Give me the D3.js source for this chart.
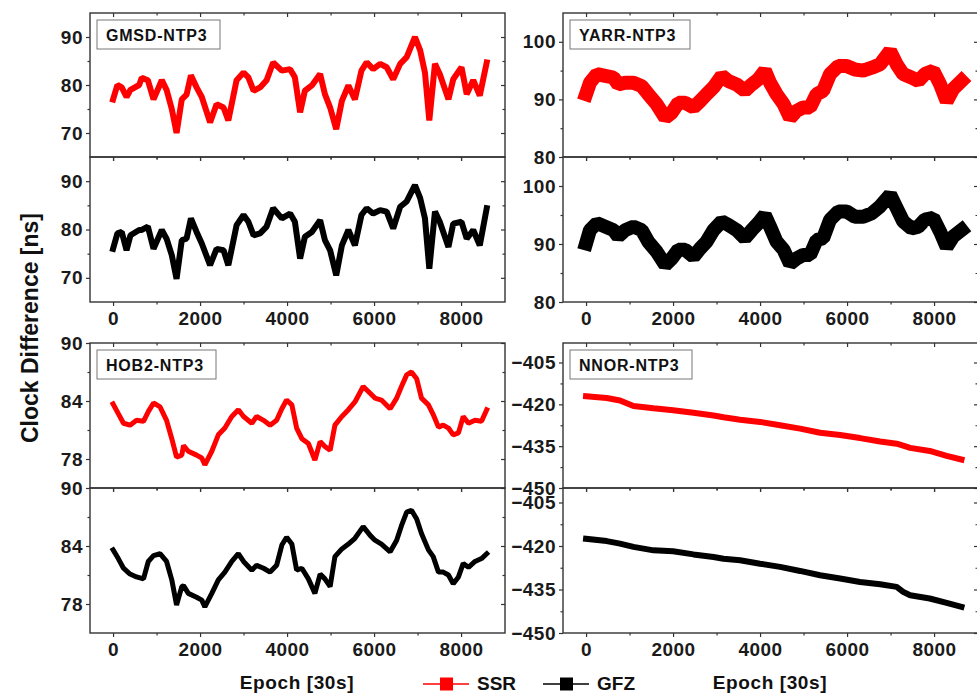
<!DOCTYPE html>
<html>
<head>
<meta charset="utf-8">
<script src="https://cdn.jsdelivr.net/npm/d3@7"></script>
<style>
  body { margin: 0; background: #fff; }
  svg { display: block; }
</style>
</head>
<body>
<svg id="chart" width="977" height="695"></svg>
<script>
// ---- data (epoch in 30 s steps, clock difference in ns) ----
const gmsdEpoch = [0,100,200,310,400,600,660,800,930,1120,1230,1350,1460,1580,1690,1790,1920,2040,2230,2380,2540,2650,2840,3000,3110,3230,3380,3530,3680,3880,4070,4180,4300,4410,4570,4760,4870,4990,5130,5260,5410,5560,5710,5830,5980,6140,6290,6440,6600,6750,6940,7060,7170,7270,7400,7510,7710,7820,8010,8130,8280,8430,8590];
const gmsdSSR = [77,80,79.5,77.5,79,80,81.5,81,77,81,79,75,70,77,78,82,79.5,77.5,72.2,76,75.3,72.6,81,82.6,81.6,78.8,79.5,81,84.7,83,83.3,81.6,74.3,78.8,79.9,82.3,78.1,75.3,70.8,76.7,79.9,77,83,84.7,83.3,84.4,83.7,81.2,84.4,85.8,90,87.2,82.6,72.6,84.4,82.3,77,81.2,83.7,78.1,81,77.8,84.7];
const gmsdGFZ = [76,79.2,79.5,75.7,78.8,79.9,79.9,80.6,76,79.9,78.1,74.7,69.8,77.8,78.1,82.3,79.5,77.1,72.6,76,75.7,72.6,80.9,83,81.6,78.8,79.2,80.6,84.4,82.3,83.3,81.6,74,78.5,79.5,81.9,77.8,75.7,70.5,76.7,79.9,76.7,83,84.4,83.3,84,83.7,80.2,84.7,85.8,89.2,86.5,82.3,71.9,83.7,81.6,76.4,81.2,81.6,78.1,79.9,76.7,84.4];

const yarrEpoch = [0,90,250,440,630,740,900,1090,1280,1430,1620,1820,1970,2120,2280,2470,2620,2770,2930,3120,3270,3460,3650,3810,3960,4110,4230,4380,4540,4690,4840,4990,5150,5300,5450,5610,5800,5990,6180,6370,6570,6760,6990,7140,7290,7480,7640,7790,7980,8140,8290,8440,8630];
const yarrSSR = [90.9,92.9,94.4,94.1,93.8,92.6,92.9,92.9,92.3,90.9,89.2,86.8,87.7,89.4,89.4,88.6,89.7,90.9,92.1,94.1,93.2,92.6,91.5,92.6,93.5,95,92.9,90.9,89.2,86.8,88,88.6,88.6,90.9,91.5,94.4,95.8,95.8,95.2,95,95.5,96.1,98.4,96.1,94.4,93.8,93.2,94.4,95,92.6,89.7,91.8,93.2];
const yarrGFZ = [90.1,92.4,93.6,93,92.4,91.3,92.4,93,92.4,90.4,88.7,86.4,87.5,89,89,87.8,89.2,90.4,92.4,93.9,93.3,92.4,91,92.4,93.6,95,93,90.4,89,86.6,87.5,88.1,88.1,90.7,91,94.2,95.6,95.6,94.7,94.7,95.3,96.5,98.5,96.2,93.9,92.7,93,94.2,94.5,92.1,89.5,91.3,92.4];

const hob2Epoch = [0,120,240,390,540,700,810,930,1080,1230,1350,1460,1580,1620,1730,1920,2040,2110,2270,2420,2570,2730,2880,3000,3190,3300,3460,3610,3760,3880,3990,4110,4220,4340,4490,4640,4760,4870,4990,5100,5260,5410,5560,5750,5910,6020,6170,6370,6520,6630,6750,6860,6980,7090,7250,7360,7480,7590,7710,7820,7940,8050,8170,8320,8470,8590];
const hob2SSR = [83.7,82.7,81.7,81.5,82,81.9,82.9,83.8,83.4,82,80.1,78.2,78.4,79.4,78.8,78.4,78.1,77.4,78.8,80.5,81.2,82.4,83.1,82.4,81.7,82.4,82,81.5,82,83.2,84.1,83.6,81.2,80.1,79.6,77.9,79.8,79.3,78.9,81.5,82.4,83.1,83.9,85.5,84.8,84.3,84.1,83.2,84.3,85.5,86.7,87,86.3,84.3,83.6,82.6,81.3,81.5,81.2,80.5,80.7,82.4,81.7,82,81.9,83.1];
const hob2GFZ = [83.6,82.7,81.7,81.1,80.8,80.6,82.4,83,83.2,82.4,80.5,77.9,79.8,79.9,79.1,78.7,78.4,77.7,79.1,80.5,81.3,82.4,83.2,82.4,81.5,82,81.7,81.3,82,84.1,84.9,84.2,81.5,81.7,80.6,79.1,81.1,80.6,79.8,82.9,83.7,84.2,84.8,86,85.1,84.6,84.2,83.4,84.6,86.1,87.5,87.7,86.8,85.3,83.6,82.9,81.3,81.3,81,80.1,80.8,82.2,81.8,82.4,82.7,83.2];

const nnorEpoch = [0,475,780,1090,1550,2000,2470,2930,3160,3540,4000,4460,4920,5380,5840,6300,6760,7140,7290,7450,7900,8290,8630];
const nnorSSR = [-417.1,-417.7,-418.6,-420.6,-421.4,-422.1,-423,-424,-424.6,-425.5,-426.3,-427.5,-428.7,-430.2,-431,-432.1,-433.3,-434.1,-434.8,-435.6,-436.7,-438.5,-439.8];
const nnorGFZ = [-417.5,-418.3,-419.2,-420.3,-421.5,-421.8,-422.9,-423.8,-424.4,-424.9,-426.1,-427.2,-428.6,-430.1,-431.2,-432.4,-433.2,-434.1,-435.8,-437,-438.1,-439.6,-441];

const xTicks = [0, 2000, 4000, 6000, 8000];
const xMinor = [1000, 3000, 5000, 7000];
const seriesNames = ["SSR", "GFZ"];
const seriesColors = ["#ff0000", "#000000"];

// ---- layout ----
const font = "'Liberation Sans', Arial, sans-serif";
const cols = [{ x0: 90, x1: 505 }, { x0: 563, x1: 978 }];
const rows = [{ top: 13, mid: 157, bot: 302 }, { top: 343, mid: 488, bot: 633 }];
const xDomain = [-530, 9010];

const panels = [
  { name: "GMSD-NTP3", col: 0, row: 0, epoch: gmsdEpoch, ssr: gmsdSSR, gfz: gmsdGFZ, lw: 6,
    dom: [[65, 95], [65, 95]], ticks: [[70, 80, 90], [70, 80, 90]], minor: [[75, 85], [75, 85]], box: 123 },
  { name: "YARR-NTP3", col: 1, row: 0, epoch: yarrEpoch, ssr: yarrSSR, gfz: yarrGFZ, lw: 14,
    dom: [[80, 105], [80, 105]], ticks: [[80, 90, 100], [80, 90, 100]], minor: [[85, 95], [85, 95]], box: 120 },
  { name: "HOB2-NTP3", col: 0, row: 1, epoch: hob2Epoch, ssr: hob2SSR, gfz: hob2GFZ, lw: 5,
    dom: [[75, 90], [75, 90]], ticks: [[78, 84, 90], [78, 84, 90]], minor: [[81, 87], [81, 87]], box: 119 },
  { name: "NNOR-NTP3", col: 1, row: 1, epoch: nnorEpoch, ssr: nnorSSR, gfz: nnorGFZ, lw: 6,
    dom: [[-450, -398], [-450, -400]], ticks: [[-450, -435, -420, -405], [-450, -435, -420, -405]],
    minor: [[-442.5, -427.5, -412.5], [-442.5, -427.5, -412.5]], box: 122 }
];

const svg = d3.select("#chart");

function styleAxis(g) {
  g.attr("font-family", font).attr("font-size", 19).attr("font-weight", "bold");
  g.selectAll(".tick line").attr("stroke", "#333").attr("stroke-width", 1.2);
  g.selectAll(".tick text").attr("fill", "#1a1a1a").style("letter-spacing", "0.5px");
  g.select(".domain").remove();
}

function subplot(p, k) {
  const c = cols[p.col], r = rows[p.row];
  const top = k === 0 ? r.top : r.mid;
  const bot = k === 0 ? r.mid : r.bot;
  const x = d3.scaleLinear().domain(xDomain).range([c.x0, c.x1]);
  const y = d3.scaleLinear().domain(p.dom[k]).range([bot, top]);
  const vals = k === 0 ? p.ssr : p.gfz;
  const g = svg.append("g");

  // clip the series to the subplot
  const clipId = "clip-" + p.col + p.row + k;
  svg.append("clipPath").attr("id", clipId)
    .append("rect").attr("x", c.x0).attr("y", top).attr("width", c.x1 - c.x0).attr("height", bot - top);

  const line = d3.line().x((d, i) => x(p.epoch[i])).y(d => y(d));
  g.append("path")
    .datum(vals)
    .attr("clip-path", "url(#" + clipId + ")")
    .attr("fill", "none")
    .attr("stroke", seriesColors[k])
    .attr("stroke-width", p.lw)
    .attr("stroke-linejoin", "bevel")
    .attr("stroke-linecap", "square")
    .attr("d", line);

  // left axis (outward ticks with labels)
  g.append("g").attr("transform", `translate(${c.x0},0)`)
    .call(d3.axisLeft(y).tickValues(p.ticks[k]).tickSize(4).tickPadding(3).tickFormat(d3.format("d")))
    .call(styleAxis);
  g.append("g").attr("transform", `translate(${c.x0},0)`)
    .call(d3.axisLeft(y).tickValues(p.minor[k]).tickSize(2.5).tickFormat(""))
    .call(styleAxis);
  // right axis (inward ticks)
  g.append("g").attr("transform", `translate(${c.x1},0)`)
    .call(d3.axisLeft(y).tickValues(p.ticks[k]).tickSize(4).tickFormat(""))
    .call(styleAxis);
  g.append("g").attr("transform", `translate(${c.x1},0)`)
    .call(d3.axisLeft(y).tickValues(p.minor[k]).tickSize(2.5).tickFormat(""))
    .call(styleAxis);
  // top (inward) and bottom (outward) ticks
  g.append("g").attr("transform", `translate(0,${top})`)
    .call(d3.axisBottom(x).tickValues(xTicks).tickSize(4).tickFormat(""))
    .call(styleAxis);
  g.append("g").attr("transform", `translate(0,${top})`)
    .call(d3.axisBottom(x).tickValues(xMinor).tickSize(2.5).tickFormat(""))
    .call(styleAxis);
  g.append("g").attr("transform", `translate(0,${bot})`)
    .call(d3.axisBottom(x).tickValues(xTicks).tickSize(4).tickPadding(6)
      .tickFormat(k === 1 ? d3.format("d") : ""))
    .call(styleAxis);
  g.append("g").attr("transform", `translate(0,${bot})`)
    .call(d3.axisBottom(x).tickValues(xMinor).tickSize(2.5).tickFormat(""))
    .call(styleAxis);

  // frame
  g.append("rect")
    .attr("x", c.x0).attr("y", top)
    .attr("width", c.x1 - c.x0).attr("height", bot - top)
    .attr("fill", "none").attr("stroke", "#333").attr("stroke-width", 1.4);
}

panels.forEach(p => {
  subplot(p, 0);
  subplot(p, 1);
  const c = cols[p.col], r = rows[p.row];
  const bx = c.x0 + 7, by = r.top + 7;
  svg.append("rect")
    .attr("x", bx).attr("y", by).attr("width", p.box).attr("height", 29)
    .attr("fill", "#fff").attr("stroke", "#777").attr("stroke-width", 1);
  svg.append("text")
    .attr("x", bx + 9).attr("y", by + 21)
    .attr("font-family", font).attr("font-size", 16).attr("font-weight", "bold")
    .style("letter-spacing", "0.8px")
    .attr("fill", "#111")
    .text(p.name);
});

// axis titles
svg.append("text")
  .attr("transform", "translate(38,328) rotate(-90)")
  .attr("text-anchor", "middle")
  .attr("font-family", font).attr("font-size", 23).attr("font-weight", "bold")
  .attr("fill", "#111")
  .text("Clock Difference [ns]");

[297, 770].forEach(cx => {
  svg.append("text")
    .attr("x", cx).attr("y", 689)
    .attr("text-anchor", "middle")
    .attr("font-family", font).attr("font-size", 19).attr("font-weight", "bold")
    .style("letter-spacing", "0.6px")
    .attr("fill", "#111")
    .text("Epoch [30s]");
});

// legend
const legendX = [423, 543];
seriesNames.forEach((name, i) => {
  const lx = legendX[i];
  svg.append("line")
    .attr("x1", lx).attr("x2", lx + 46).attr("y1", 684).attr("y2", 684)
    .attr("stroke", seriesColors[i]).attr("stroke-width", 1.3);
  svg.append("rect")
    .attr("x", lx + 17).attr("y", 677.5).attr("width", 13).attr("height", 13)
    .attr("fill", seriesColors[i]);
  svg.append("text")
    .attr("x", lx + 54).attr("y", 690)
    .attr("font-family", font).attr("font-size", 19).attr("font-weight", "bold")
    .attr("fill", "#111")
    .text(name);
});
</script>
</body>
</html>
